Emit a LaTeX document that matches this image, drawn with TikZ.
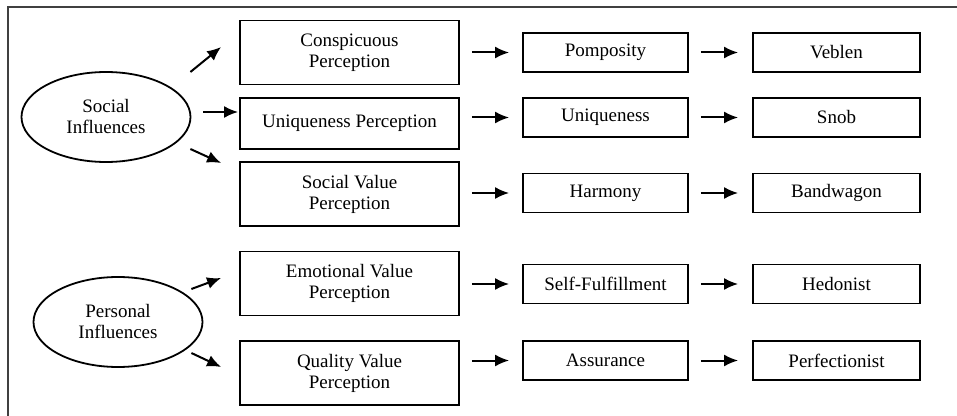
\documentclass[tikz,border=0pt]{standalone}
\usepackage{fontspec}
\setmainfont{Liberation Serif}
\usetikzlibrary{shapes.geometric, arrows.meta}

\begin{document}
\begin{tikzpicture}[x=0.5pt, y=-0.5pt, every node/.style={draw, line width=0.9pt, align=center, inner sep=0pt, font=\fontsize{9.5}{10.5}\selectfont}, bigbox/.style={rectangle, minimum width=109.5pt, minimum height=32pt}, smallbox/.style={rectangle, minimum height=19.5pt}, oval/.style={ellipse, minimum width=84.5pt, minimum height=45pt}, arr/.style={-{Latex[length=7pt,width=6pt]}, line width=1pt}]

\useasboundingbox (0,0) rectangle (957,416);
\draw[line width=1pt, black!75] (8,416) -- (8,7) -- (957,7); % Frame

% Influences
\node[oval] (soc) at (106,117) {Social\\Influences};
\node[oval] (pers) at (118,322) {Personal\\Influences};

% Perceptions
\node[bigbox] (consp) at (349.5,52.5) {Conspicuous\\Perception};
\node[bigbox, minimum height=25.5pt] (uniqp) at (349.5,123.5) {Uniqueness Perception};
\node[bigbox] (socv) at (349.5,194) {Social Value\\Perception};
\node[bigbox] (emo) at (349.5,283.5) {Emotional Value\\Perception};
\node[bigbox] (qual) at (349.5,373) {Quality Value\\Perception};

% Values
\node[smallbox, minimum width=82.5pt] (pomp) at (605.5,52.5) {Pomposity};
\node[smallbox, minimum width=82.5pt] (uniq) at (605.5,117.5) {Uniqueness};
\node[smallbox, minimum width=82.5pt] (harm) at (605.5,193) {Harmony};
\node[smallbox, minimum width=82.5pt] (self) at (605.5,284) {Self-Fulfillment};
\node[smallbox, minimum width=82.5pt] (assu) at (605.5,360.5) {Assurance};

% Consumer types
\node[smallbox, minimum width=83.5pt] (veb) at (836.5,52.5) {Veblen};
\node[smallbox, minimum width=83.5pt] (snob) at (836.5,117.5) {Snob};
\node[smallbox, minimum width=83.5pt] (band) at (836.5,193) {Bandwagon};
\node[smallbox, minimum width=83.5pt] (hedo) at (836.5,284) {Hedonist};
\node[smallbox, minimum width=83.5pt] (perf) at (836.5,360.5) {Perfectionist};

% Influences to perceptions
\draw[arr] ([shift={(-1,-45)}]soc.east) -- ([shift={(-18,-5.5)}]consp.west);
\draw[arr] ([shift={(12,-5)}]soc.east) -- ([shift={(-1,-11.5)}]uniqp.west);
\draw[arr] ([shift={(-1,32)}]soc.east) -- ([shift={(-18,-31)}]socv.west);
\draw[arr] ([shift={(-12,-33)}]pers.east) -- ([shift={(-18,-5.5)}]emo.west);
\draw[arr] ([shift={(-12,31)}]pers.east) -- ([shift={(-18,-6)}]qual.west);

% Perceptions to values
\draw[arr, shorten <=6pt, shorten >=6.5pt] (consp.east |- pomp.west) -- (pomp.west);
\draw[arr, shorten <=6pt, shorten >=6.5pt] (uniqp.east |- uniq.west) -- (uniq.west);
\draw[arr, shorten <=6pt, shorten >=6.5pt] (socv.east |- harm.west) -- (harm.west);
\draw[arr, shorten <=6pt, shorten >=6.5pt] (emo.east |- self.west) -- (self.west);
\draw[arr, shorten <=6pt, shorten >=6.5pt] (qual.east |- assu.west) -- (assu.west);

% Values to consumer types
\draw[arr, shorten <=6pt, shorten >=7pt] (pomp) -- (veb);
\draw[arr, shorten <=6pt, shorten >=7pt] (uniq) -- (snob);
\draw[arr, shorten <=6pt, shorten >=7pt] (harm) -- (band);
\draw[arr, shorten <=6pt, shorten >=7pt] (self) -- (hedo);
\draw[arr, shorten <=6pt, shorten >=7pt] (assu) -- (perf);
\end{tikzpicture}
\end{document}
